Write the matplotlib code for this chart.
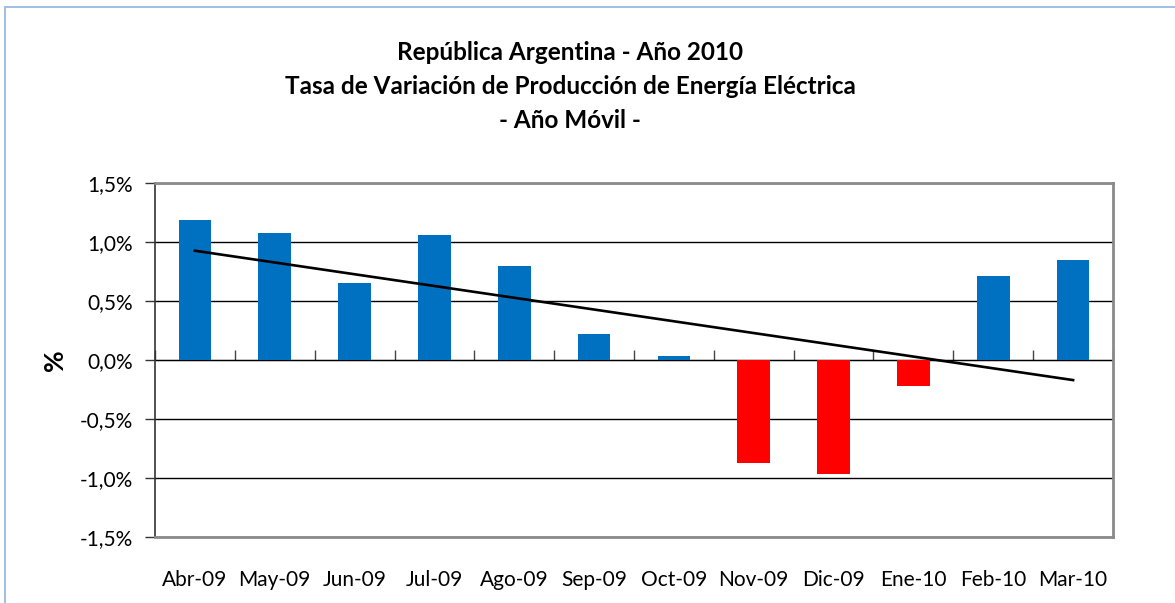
"""
República Argentina - Año 2010: tasa de variación de producción de energía
eléctrica (año móvil), barras mensuales con línea de tendencia lineal.
"""

import matplotlib
matplotlib.use("Agg")
import matplotlib.pyplot as plt
import numpy as np
from matplotlib.patches import Rectangle
from matplotlib.ticker import FuncFormatter, FixedLocator

matplotlib.rcParams.update({
    "font.family": ["Lato", "DejaVu Sans"],
    "font.size": 15,
})

MONTHS = ["Abr-09", "May-09", "Jun-09", "Jul-09", "Ago-09", "Sep-09",
          "Oct-09", "Nov-09", "Dic-09", "Ene-10", "Feb-10", "Mar-10"]
# variación interanual, en %
VALUES = [1.19, 1.08, 0.65, 1.06, 0.80, 0.22, 0.035, -0.87, -0.97, -0.22, 0.71, 0.85]
Y_TICKS = [-1.5, -1.0, -0.5, 0.0, 0.5, 1.0, 1.5]
TITLE = ["República Argentina - Año 2010",
         "Tasa de Variación de Producción de Energía Eléctrica",
         "- Año Móvil -"]

BLUE = "#0070C0"
RED = "#FF0000"
FRAME = "#8A8A8A"


def main():
    fig = plt.figure(figsize=(11.75, 6.03), dpi=100)
    ax = fig.add_axes([155 / 1175, 66 / 603, 958 / 1175, 354 / 603])

    x = np.arange(len(MONTHS))
    vals = np.array(VALUES)
    colors = [BLUE if v >= 0 else RED for v in vals]
    ax.bar(x, vals, 0.41, color=colors, zorder=3)

    # Excel-style linear trendline
    k, b = np.polyfit(x, vals, 1)
    ax.plot(x, k * x + b, color="black", lw=1.9, zorder=4)

    ax.set_xlim(-0.5, len(MONTHS) - 0.5)
    ax.set_ylim(Y_TICKS[0], Y_TICKS[-1])
    ax.set_yticks(Y_TICKS)
    ax.yaxis.set_major_formatter(FuncFormatter(lambda v, _: f"{v:.1f}%".replace(".", ",")))
    ax.grid(axis="y", color="black", lw=1.0, zorder=1)
    ax.tick_params(axis="y", direction="out", length=7, width=1, color="#333333", pad=9)

    ax.set_xticks(x)
    ax.set_xticklabels(MONTHS)
    ax.tick_params(axis="x", length=0, pad=24)

    for side in ("top", "right", "bottom"):
        ax.spines[side].set_color(FRAME)
        ax.spines[side].set_linewidth(2)
    ax.spines["left"].set_color("#333333")
    ax.spines["left"].set_linewidth(1.2)

    # category axis crossing at 0 with boundary tick marks
    zero_pos = (0 - Y_TICKS[0]) / (Y_TICKS[-1] - Y_TICKS[0])
    sec = ax.secondary_xaxis(zero_pos)
    sec.xaxis.set_major_locator(FixedLocator(np.arange(len(MONTHS) + 1) - 0.5))
    sec.tick_params(direction="out", length=7, width=1, color="#444444", labelbottom=False)
    sec.set_xticklabels([])
    sec.spines["bottom"].set_color("#333333")
    sec.spines["bottom"].set_linewidth(1.2)

    ax.set_ylabel("%", fontsize=19, fontweight="bold", labelpad=9)

    for i, line in enumerate(TITLE):
        fig.text(570 / 1175, 1 - (52 + i * 34) / 603, line, ha="center", va="center",
                 fontsize=17.5, fontweight="bold")

    # chart area border (cropped at right and bottom)
    fig.patches.append(Rectangle((5 / 1175, -0.05), 1.2, (601 - 5) / 603 + 0.05,
                                 transform=fig.transFigure, fill=False,
                                 edgecolor="#8DB4E2", lw=1.2))

    fig.savefig("out.png", dpi=100)
    plt.close(fig)


if __name__ == "__main__":
    main()
